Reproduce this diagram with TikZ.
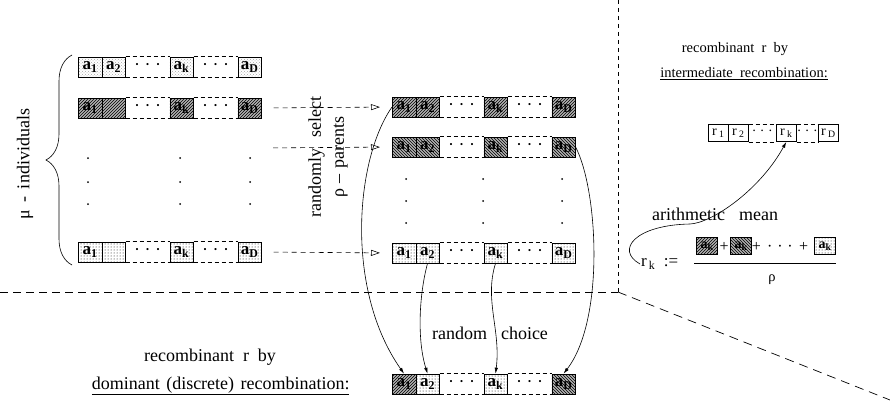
\documentclass[tikz,border=0pt]{standalone}
\usepackage{fontspec}
\setmainfont{Liberation Serif}
\usetikzlibrary{arrows.meta,positioning,calc,patterns,decorations.pathreplacing}

\newcommand{\gene}[1]{a\textsubscript{#1}}
\newcommand{\rgene}[1]{r\,\textsubscript{#1}}
% one string of four genes (1, 2, k, D), dashed gaps in between;
% optional argument: left offsets of the four cells
\newcommand{\chrom}[4][0,23.5,91.5,159.5]{%
  \foreach \cs/\cl [count=\ci] in {#4}{
    \pgfmathsetmacro\cx{{#1}[\ci-1]}
    \node[cell,\cs,anchor=west] (#2-\ci) at ($(#3)+(\cx,0)$) {\cl};
  }
  \draw[gap] (#2-2.north east) -- (#2-3.north west) (#2-2.south east) -- (#2-3.south west)
    (#2-3.north east) -- (#2-4.north west) (#2-3.south east) -- (#2-4.south west);
  \node[gapdots] (#2-g1) at ($(#2-2.east)!.5!(#2-3.west)$) {· · ·};
  \node[gapdots] (#2-g2) at ($(#2-3.east)!.5!(#2-4.west)$) {· · ·};
}

\begin{document}
\begin{tikzpicture}[x=1pt,y=-1pt,font=\fontsize{18}{23}\selectfont,
  cell/.style={draw,line width=.6pt,minimum width=23.5pt,minimum height=20pt,
    inner sep=0pt,font=\fontsize{17}{17}\selectfont\bfseries},
  rcell/.style={minimum width=20pt,minimum height=17pt,font=\fontsize{14}{14}\selectfont},
  numcell/.style={cell,minimum width=21pt,minimum height=17pt,font=\fontsize{14}{14}\selectfont\bfseries},
  small/.style={font=\fontsize{14.5}{17}\selectfont},
  gapdots/.style={},
  hatchA/.style={fill=gray!60,postaction={pattern=north east lines}},
  hatchB/.style={fill=gray!60,postaction={pattern=north west lines}},
  dotsA/.style={pattern=crosshatch dots,pattern color=gray!70},
  dotsB/.style={pattern=dots},
  gap/.style={line width=.6pt,dash pattern=on 4pt off 3pt},
  sel/.style={line width=.6pt,dash pattern=on 5pt off 4pt,
    -{Triangle[open,length=9pt,width=6pt]},shorten <=12pt,shorten >=12pt},
  pick/.style={line width=.6pt,-{Latex[length=6pt,width=3.5pt]}},
  split/.style={line width=.7pt,dash pattern=on 8pt off 5pt}]
  \useasboundingbox (0,0) rectangle (890,412);

  % population of mu individuals
  \chrom{L1}{78,67}{dotsA/\gene{1}, dotsA/\gene{2}, dotsA/\gene{k}, dotsA/\gene{D}}
  \chrom{L2}{78,108}{hatchA/\gene{1}, hatchA/{}, hatchA/\gene{k}, hatchA/\gene{D}}
  \chrom{L3}{78,252}{dotsB/\gene{1}, dotsB/{}, dotsB/\gene{k}, dotsB/\gene{D}}
  \foreach \x in {88,180,250} \foreach \y in {158,182,204} \fill (\x,\y) circle (1pt);
  \draw[decorate,decoration={brace,amplitude=26pt},line width=.6pt] (72,265) -- (72,55);
  \node[rotate=90] (indiv) at (25,164) {μ\hspace{.4em}-\hspace{.4em}individuals};

  % the rho chosen parents
  \chrom{M1}{392,107}{hatchA/\gene{1}, hatchA/\gene{2}, hatchA/\gene{k}, hatchA/\gene{D}}
  \chrom{M2}{392,147}{hatchB/\gene{1}, hatchB/\gene{2}, hatchB/\gene{k}, hatchB/\gene{D}}
  \chrom{M3}{392,253}{dotsB/\gene{1}, dotsB/\gene{2}, dotsB/\gene{k}, dotsB/\gene{D}}
  \foreach \x in {406,483,562} \foreach \y in {179,201,223} \fill (\x,\y) circle (1pt);
  \node[rotate=90,align=center] (choose) at (328,157)
    {randomly\hspace{.6em}select\\ρ\hspace{.3em}–\hspace{.3em}parents};
  \coordinate (from2) at (261,148);
  \draw[sel] (L2-4.east) -- (M1-1.west);
  \draw[sel] (from2) -- (M2-1.west);
  \draw[sel] (L3-4.east) -- (M3-1.west);

  % split into the two kinds of recombination
  \draw[split] (0,292) -- (618,292);
  \draw[split,dash pattern=on 4pt off 4pt] (618,0) -- (618,292);
  \draw[split,dash pattern=on 9pt off 6pt] (618,292) -- (890,400);

  % dominant recombination
  \chrom{B}{392,384}{hatchA/\gene{1}, dotsB/\gene{2}, dotsB/\gene{k}, hatchB/\gene{D}}
  \node (domA) at (210,357) {recombinant\hspace{.5em}r\hspace{.5em}by};
  \node[anchor=east] (domB) at (353,386)
    {\underline{dominant\hspace{.35em}(discrete)\hspace{.35em}recombination:}};
  \node (rand) at (490,333) {random\hspace{14pt}choice};
  \draw[pick] (M1-1.west) .. controls (355,160) and (345,290) .. (B-1.north);
  \draw[pick] (M3-2.south) .. controls (419,295) and (417,340) .. (B-2.north);
  \draw[pick] (M3-3.south) .. controls (484,300) and (501,330) .. (B-3.north);
  \draw[pick] (M2-4.east) .. controls (598,190) and (605,320) .. (B-4.north);

  % intermediate recombination
  \node[small] (intA) at (735,49) {recombinant\hspace{.5em}r\hspace{.5em}by};
  \node[small] (intB) at (744,74) {\underline{intermediate\hspace{.5em}recombination:}};
  \begin{scope}[gapdots/.style={font=\fontsize{14}{14}\selectfont}]
    \chrom[0,20,68,110]{R}{708,133}{rcell/\rgene{1}, rcell/\rgene{2}, rcell/\rgene{k}, rcell/\rgene{D}}
  \end{scope}
  \node (arith) at (715,214) {arithmetic\hspace{14pt}mean};
  \node[anchor=west,inner sep=1pt,font=\fontsize{17}{17}\selectfont] (rkdef) at (640,264)
    {r\textsubscript{\,k}\hspace{.5em}:=};
  \node[numcell,hatchA] (n1) at (707,246) {\gene{k}};
  \node[font=\fontsize{16}{16}\selectfont] (p1) at (724,247) {+};
  \node[numcell,hatchB] (n2) at (741,246) {\gene{k}};
  \node[font=\fontsize{16}{16}\selectfont] (p2) at (780,247)
    {+\hspace{.4em}·\hspace{.3em}·\hspace{.3em}·\hspace{.4em}+};
  \node[numcell,dotsB] (n3) at (825,246) {\gene{k}};
  \draw[line width=.6pt] (694,263) -- (836,263);
  \node[small] (rho) at (772,280) {ρ};
  \draw[pick] (rkdef.west) .. controls (615,250) and (635,225) .. (690,224)
    .. controls (712,223) and (760,190) .. (R-3.south);
\end{tikzpicture}
\end{document}
